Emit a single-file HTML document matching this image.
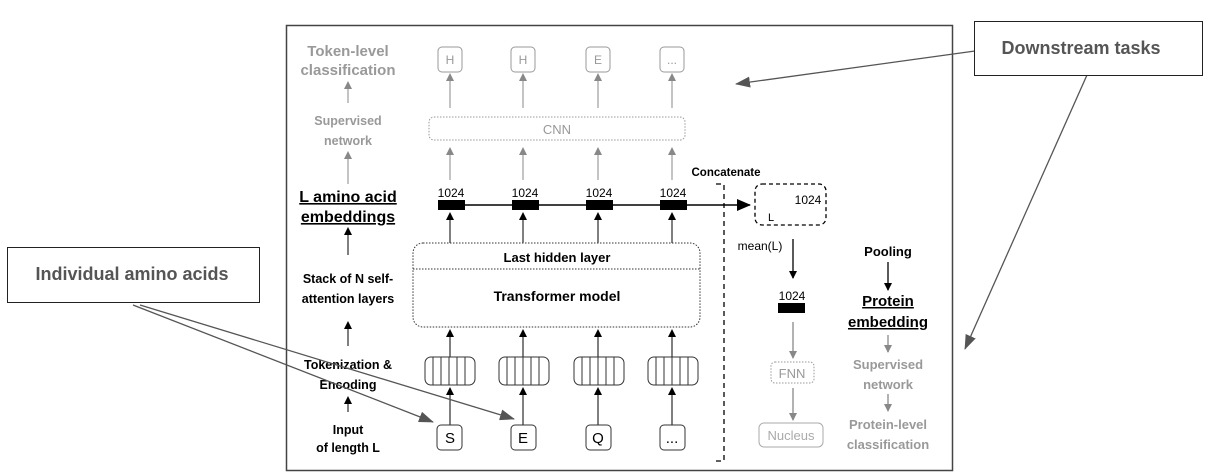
<!DOCTYPE html>
<html><head><meta charset="utf-8"><style>
html,body{margin:0;padding:0;background:#fff;}
svg{display:block;}
text{font-family:"Liberation Sans",Arial,sans-serif;}
</style></head><body>
<svg width="1210" height="475" viewBox="0 0 1210 475" xmlns="http://www.w3.org/2000/svg">
<defs>
<marker id="ab" markerWidth="8" markerHeight="8" refX="7" refY="4" orient="auto" markerUnits="userSpaceOnUse"><path d="M0,0 L8,4 L0,8 z" fill="#000"/></marker>
<marker id="ag" markerWidth="8" markerHeight="8" refX="7" refY="4" orient="auto" markerUnits="userSpaceOnUse"><path d="M0,0 L8,4 L0,8 z" fill="#888"/></marker>
<marker id="abB" markerWidth="14" markerHeight="12" refX="13" refY="6" orient="auto" markerUnits="userSpaceOnUse"><path d="M0,0 L14,6 L0,12 z" fill="#000"/></marker>
<marker id="ac" markerWidth="15" markerHeight="11" refX="14" refY="5.5" orient="auto" markerUnits="userSpaceOnUse"><path d="M0,0 L15,5.5 L0,11 z" fill="#555"/></marker>
</defs>
<rect x="286.5" y="25.5" width="666" height="445" fill="#fff" stroke="#444" stroke-width="1.5"/>

<g font-weight="bold" text-anchor="middle">
<text x="348" y="56" font-size="15" fill="#999">Token-level</text>
<text x="348" y="75" font-size="15" fill="#999">classification</text>
<text x="348" y="125" font-size="12.5" fill="#999">Supervised</text>
<text x="348" y="145" font-size="12.5" fill="#999">network</text>
<text x="348" y="202" font-size="16" fill="#000" text-decoration="underline">L amino acid</text>
<text x="348" y="222" font-size="16" fill="#000" text-decoration="underline">embeddings</text>
<text x="348" y="283" font-size="12.5">Stack of N self-</text>
<text x="348" y="303" font-size="12.5">attention layers</text>
<text x="348" y="369" font-size="12.5">Tokenization &amp;</text>
<text x="348" y="389" font-size="12.5">Encoding</text>
<text x="348" y="434" font-size="12.5">Input</text>
<text x="348" y="452" font-size="12.5">of length L</text>
</g>
<g stroke-width="1">
<line x1="348" y1="103" x2="348" y2="82" stroke="#888" marker-end="url(#ag)"/>
<line x1="348" y1="184" x2="348" y2="152" stroke="#888" marker-end="url(#ag)"/>
<line x1="348" y1="255" x2="348" y2="228" stroke="#000" marker-end="url(#ab)"/>
<line x1="348" y1="346" x2="348" y2="322" stroke="#000" marker-end="url(#ab)"/>
<line x1="348" y1="412" x2="348" y2="397" stroke="#000" marker-end="url(#ab)"/>
</g>

<g fill="#fff" stroke="#999" stroke-width="1">
<rect x="438" y="47" width="24" height="25" rx="4"/>
<rect x="511" y="47" width="24" height="25" rx="4"/>
<rect x="586" y="47" width="24" height="25" rx="4"/>
<rect x="660" y="47" width="24" height="25" rx="4"/>
</g>
<g font-size="12" fill="#999" text-anchor="middle">
<text x="450" y="64">H</text><text x="523" y="64">H</text><text x="598" y="64">E</text><text x="672" y="64">...</text>
</g>
<g stroke="#888" stroke-width="1">
<line x1="450" y1="108" x2="450" y2="74" marker-end="url(#ag)"/>
<line x1="523" y1="108" x2="523" y2="74" marker-end="url(#ag)"/>
<line x1="598" y1="108" x2="598" y2="74" marker-end="url(#ag)"/>
<line x1="672" y1="108" x2="672" y2="74" marker-end="url(#ag)"/>
<line x1="450" y1="180" x2="450" y2="148" marker-end="url(#ag)"/>
<line x1="523" y1="180" x2="523" y2="148" marker-end="url(#ag)"/>
<line x1="598" y1="180" x2="598" y2="148" marker-end="url(#ag)"/>
<line x1="672" y1="180" x2="672" y2="148" marker-end="url(#ag)"/>
</g>
<rect x="429" y="117" width="256" height="23" rx="5" fill="none" stroke="#999" stroke-dasharray="1.5,1.5"/>
<text x="557" y="134" font-size="13" fill="#999" text-anchor="middle">CNN</text>

<line x1="440" y1="205" x2="750" y2="205" stroke="#000" stroke-width="1.5" marker-end="url(#abB)"/>
<g fill="#000">
<rect x="438" y="200" width="27" height="10"/>
<rect x="512" y="200" width="27" height="10"/>
<rect x="586" y="200" width="27" height="10"/>
<rect x="660" y="200" width="27" height="10"/>
</g>
<g font-size="12" text-anchor="middle">
<text x="451" y="197">1024</text><text x="525" y="197">1024</text><text x="599" y="197">1024</text><text x="673" y="197">1024</text>
</g>
<g stroke="#000" stroke-width="1">
<line x1="450" y1="243" x2="450" y2="213" marker-end="url(#ab)"/>
<line x1="523" y1="243" x2="523" y2="213" marker-end="url(#ab)"/>
<line x1="598" y1="243" x2="598" y2="213" marker-end="url(#ab)"/>
<line x1="672" y1="243" x2="672" y2="213" marker-end="url(#ab)"/>
</g>

<rect x="413" y="243" width="287" height="84" rx="10" fill="none" stroke="#333" stroke-dasharray="1.5,1.5"/>
<line x1="413" y1="269" x2="700" y2="269" stroke="#333" stroke-dasharray="1.5,1.5"/>
<text x="557" y="262" font-size="13" font-weight="bold" text-anchor="middle">Last hidden layer</text>
<text x="557" y="301" font-size="14" font-weight="bold" text-anchor="middle">Transformer model</text>

<g stroke="#000" stroke-width="1">
<line x1="450" y1="365" x2="450" y2="330" marker-end="url(#ab)"/>
<line x1="523" y1="365" x2="523" y2="330" marker-end="url(#ab)"/>
<line x1="598" y1="365" x2="598" y2="330" marker-end="url(#ab)"/>
<line x1="672" y1="365" x2="672" y2="330" marker-end="url(#ab)"/>
<line x1="450" y1="425" x2="450" y2="388" marker-end="url(#ab)"/>
<line x1="523" y1="425" x2="523" y2="388" marker-end="url(#ab)"/>
<line x1="598" y1="425" x2="598" y2="388" marker-end="url(#ab)"/>
<line x1="672" y1="425" x2="672" y2="388" marker-end="url(#ab)"/>
</g>
<g fill="none" stroke="#333" stroke-width="1">
<rect x="425" y="357" width="50" height="28" rx="6" fill="#fff"/>
<path d="M433 357V385M441 357V385M449 357V385M457 357V385M465 357V385"/>
<rect x="499" y="357" width="50" height="28" rx="6" fill="#fff"/>
<path d="M507 357V385M515 357V385M523 357V385M531 357V385M539 357V385"/>
<rect x="574" y="357" width="50" height="28" rx="6" fill="#fff"/>
<path d="M582 357V385M590 357V385M598 357V385M606 357V385M614 357V385"/>
<rect x="648" y="357" width="50" height="28" rx="6" fill="#fff"/>
<path d="M656 357V385M664 357V385M672 357V385M680 357V385M688 357V385"/>
</g>
<g fill="#fff" stroke="#333" stroke-width="1">
<rect x="437" y="425" width="25" height="25" rx="4"/>
<rect x="511" y="425" width="25" height="25" rx="4"/>
<rect x="586" y="425" width="25" height="25" rx="4"/>
<rect x="660" y="425" width="25" height="25" rx="4"/>
</g>
<g font-size="15" text-anchor="middle">
<text x="450" y="443">S</text><text x="523" y="443">E</text><text x="598" y="443">Q</text><text x="672" y="443">...</text>
</g>

<text x="726" y="176" font-size="11.5" font-weight="bold" text-anchor="middle">Concatenate</text>
<path d="M716 184H724V461H716" fill="none" stroke="#000" stroke-width="1.3" stroke-dasharray="5,4"/>
<rect x="755" y="184" width="71" height="41" rx="7" fill="none" stroke="#000" stroke-width="1.3" stroke-dasharray="4,3"/>
<text x="808" y="204" font-size="12" text-anchor="middle">1024</text>
<text x="771" y="221" font-size="11" text-anchor="middle">L</text>
<text x="760" y="250" font-size="12" text-anchor="middle">mean(L)</text>
<line x1="793" y1="239" x2="793" y2="278" stroke="#000" stroke-width="1.3" marker-end="url(#ab)"/>
<text x="792" y="300" font-size="12" text-anchor="middle">1024</text>
<rect x="778" y="303" width="27" height="10" fill="#000"/>
<line x1="793" y1="322" x2="793" y2="358" stroke="#888" stroke-width="1.3" marker-end="url(#ag)"/>
<rect x="771" y="362" width="43" height="21" rx="4" fill="none" stroke="#999" stroke-dasharray="1.5,1.5"/>
<text x="792" y="378" font-size="13" fill="#999" text-anchor="middle">FNN</text>
<line x1="793" y1="388" x2="793" y2="420" stroke="#888" stroke-width="1.3" marker-end="url(#ag)"/>
<rect x="759" y="423" width="64" height="24" rx="5" fill="none" stroke="#aaa"/>
<text x="791" y="440" font-size="13" fill="#aaa" text-anchor="middle">Nucleus</text>

<g font-weight="bold" text-anchor="middle">
<text x="888" y="256" font-size="13">Pooling</text>
<text x="888" y="306" font-size="15" text-decoration="underline">Protein</text>
<text x="888" y="327" font-size="15" text-decoration="underline">embedding</text>
<text x="888" y="369" font-size="13" fill="#999">Supervised</text>
<text x="888" y="389" font-size="13" fill="#999">network</text>
<text x="888" y="429" font-size="13" fill="#999">Protein-level</text>
<text x="888" y="449" font-size="13" fill="#999">classification</text>
</g>
<line x1="888" y1="262" x2="888" y2="290" stroke="#000" stroke-width="1.3" marker-end="url(#ab)"/>
<line x1="888" y1="335" x2="888" y2="352" stroke="#888" stroke-width="1.3" marker-end="url(#ag)"/>
<line x1="888" y1="394" x2="888" y2="411" stroke="#888" stroke-width="1.3" marker-end="url(#ag)"/>

<line x1="975" y1="51" x2="736" y2="84" stroke="#555" stroke-width="1.3" marker-end="url(#ac)"/>
<line x1="1087" y1="75" x2="965" y2="349" stroke="#555" stroke-width="1.3" marker-end="url(#ac)"/>
<rect x="974.5" y="21.5" width="228" height="54" fill="#fff" stroke="#222" stroke-width="1"/>
<text x="1081" y="54" font-size="18" font-weight="bold" fill="#555" text-anchor="middle" font-family="DejaVu Sans, sans-serif">Downstream tasks</text>

<line x1="133" y1="305" x2="433" y2="422" stroke="#555" stroke-width="1.3" marker-end="url(#ac)"/>
<line x1="140" y1="305" x2="514" y2="419" stroke="#555" stroke-width="1.3" marker-end="url(#ac)"/>
<rect x="7.5" y="247.5" width="252" height="55" fill="#fff" stroke="#222" stroke-width="1"/>
<text x="132" y="280" font-size="18" font-weight="bold" fill="#555" text-anchor="middle" font-family="DejaVu Sans, sans-serif">Individual amino acids</text>
</svg>
</body></html>
